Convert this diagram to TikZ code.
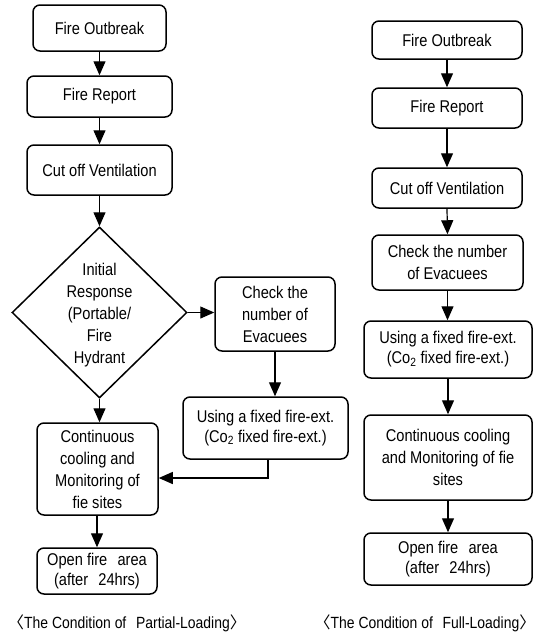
\documentclass[tikz,border=0pt]{standalone}
\usepackage{fontspec}
\setmainfont{Liberation Sans}[FakeStretch=0.86]
\newfontfamily\cjk{Noto Sans CJK SC}
\usetikzlibrary{shapes.geometric,arrows.meta}
\newcommand{\fs}{\fontsize{17}{22}\selectfont}
\newcommand{\capfs}{\fontsize{16.2}{22}\selectfont}
\tikzset{
  box/.style={draw, rounded corners=7pt, line width=1.5pt, inner sep=0pt, align=center, font=\fs},
  arr/.style={line width=1.2pt, -{Triangle[length=14pt,width=12pt]}},
  txt/.style={inner sep=0pt, align=center, font=\fs},
  captxt/.style={inner sep=0pt, align=center, font=\capfs},
}
\begin{document}
\begin{tikzpicture}[x=1pt,y=-1pt]
\useasboundingbox (0,0) rectangle (538,635);
% left column
\node[box, minimum width=133pt, minimum height=46pt] (lo1) at (99.5,28) {Fire Outbreak};
\node[box, minimum width=145pt, minimum height=41pt] (lo2) at (99.5,96.5) {Fire Report};
\node[box, minimum width=145pt, minimum height=50pt] (lo3) at (99.5,170) {Cut off Ventilation};
\node[draw, diamond, line width=1.5pt, minimum width=175pt, minimum height=171pt, inner sep=0pt] (ld) at (99.5,312.5) {};
\node[txt] (ldt) at (99.5,315) {Initial\\Response\\(Portable/\\Fire\\Hydrant};
\node[box, minimum width=120pt, minimum height=74pt] (lc) at (275,314) {Check the\\number of\\Evacuees};
\node[box, minimum width=165pt, minimum height=62pt] (lu) at (265.5,428) {Using a fixed fire-ext.\\[-2pt](Co\textsubscript{2} fixed fire-ext.)};
\node[box, minimum width=121pt, minimum height=92pt] (lcont) at (97.5,469) {Continuous\\cooling and\\Monitoring of\\fie sites};
\node[box, minimum width=120pt, minimum height=46pt] (lopen) at (97,571) {Open fire\hspace{0.6em}area\\[-2pt](after\hspace{0.6em}24hrs)};
\coordinate (bend) at (268,478);
\draw[arr] (lo1.south) -- (lo2.north);
\draw[arr] (lo2.south) -- (lo3.north);
\draw[arr] (lo3.south) -- (ld.north);
\draw[arr] (ld.east) -- (ld.east -| lc.west);
\draw[arr] (lc.south) -- (lc.south |- lu.north);
\draw[arr] (lu.south -| bend) -- (bend) -- (bend -| lcont.east);
\draw[arr] (ld.south) -- (ld.south |- lcont.north);
\draw[arr] (lcont.south -| lopen.north) -- (lopen.north);
% right column
\node[box, minimum width=150pt, minimum height=38pt] (ro1) at (447,40) {Fire Outbreak};
\node[box, minimum width=150pt, minimum height=40pt] (ro2) at (447,108) {Fire Report};
\node[box, minimum width=150pt, minimum height=40pt] (ro3) at (447,188) {Cut off Ventilation};
\node[box, minimum width=151pt, minimum height=55pt] (rc) at (447.5,262.5) {Check the number\\of Evacuees};
\node[box, minimum width=168pt, minimum height=57pt] (ru) at (448,349.5) {Using a fixed fire-ext.\\[-2pt](Co\textsubscript{2} fixed fire-ext.)};
\node[box, minimum width=168pt, minimum height=85pt] (rcont) at (448,457.5) {Continuous cooling\\and Monitoring of fie\\sites};
\node[box, minimum width=168pt, minimum height=52pt] (ropen) at (448,559) {Open fire\hspace{0.6em}area\\[-2pt](after\hspace{0.6em}24hrs)};
\draw[arr] (ro1.south) -- (ro2.north);
\draw[arr] (ro2.south) -- (ro3.north);
\draw[arr] (ro3.south) -- (rc.north);
\draw[arr] (rc.south) -- (rc.south |- ru.north);
\draw[arr] (ru.south) -- (rcont.north);
\draw[arr] (rcont.south) -- (ropen.north);
% captions
\node[captxt] (capL) at (127,623) {{\cjk 〈}The Condition of\hspace{0.6em}Partial-Loading{\cjk 〉}};
\node[captxt] (capR) at (425,623) {{\cjk 〈}The Condition of\hspace{0.6em}Full-Loading{\cjk 〉}};
\end{tikzpicture}
\end{document}
